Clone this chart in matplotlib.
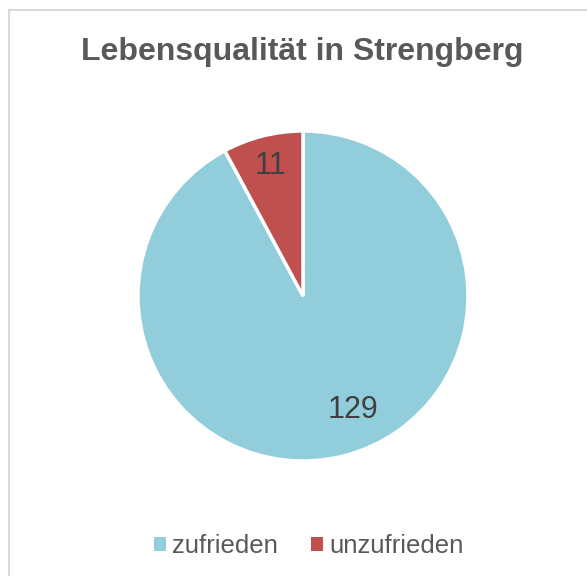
import matplotlib.pyplot as plt
from matplotlib.lines import Line2D
from matplotlib.patches import Patch

plt.rcParams['font.family'] = ['Liberation Sans', 'DejaVu Sans']

# Daten
kategorien = ['zufrieden', 'unzufrieden']
werte = [129, 11]
farben = ['#92CDDC', '#C0504D']

W, H = 587, 576
fig = plt.figure(figsize=(W / 100, H / 100), dpi=100)

# Rahmen (oben und links sichtbar)
fig.add_artist(Line2D([9 / W, 1], [1 - 10 / H, 1 - 10 / H], color='#D9D9D9', lw=1.5))
fig.add_artist(Line2D([9 / W, 9 / W], [0, 1 - 10 / H], color='#D9D9D9', lw=1.5))

# Kreis: Mittelpunkt (303, 296), Radius 165 px
cx, cy, r = 303, 296, 165
ax = fig.add_axes([(cx - r) / W, 1 - (cy + r) / H, 2 * r / W, 2 * r / H])

wedges, texte = ax.pie(
    werte, colors=farben, startangle=90, counterclock=False,
    labels=[str(v) for v in werte], labeldistance=0.81,
    wedgeprops=dict(edgecolor='white', linewidth=2.5),
    textprops=dict(fontsize=22, color='#404040'),
)
ax.set_aspect('equal')
ax.set_xlim(-1, 1)
ax.set_ylim(-1, 1)
for t in texte:
    t.set_ha('center')
    t.set_va('center')
texte[0].set_position((0.30, -0.69))

fig.text(0.515, 1 - 52 / H, 'Lebensqualität in Strengberg', ha='center', va='center',
         fontsize=23, fontweight='bold', color='#595959')

handles = [Patch(facecolor=c, edgecolor='none') for c in farben]
fig.legend(handles, kategorien, loc='center', bbox_to_anchor=(0.526, 1 - 546 / H),
           ncol=2, frameon=False, fontsize=18.5, labelcolor='#595959',
           handlelength=0.45, handleheight=0.45, handletextpad=0.25, columnspacing=1.3)

plt.savefig('out.png', dpi=100)
